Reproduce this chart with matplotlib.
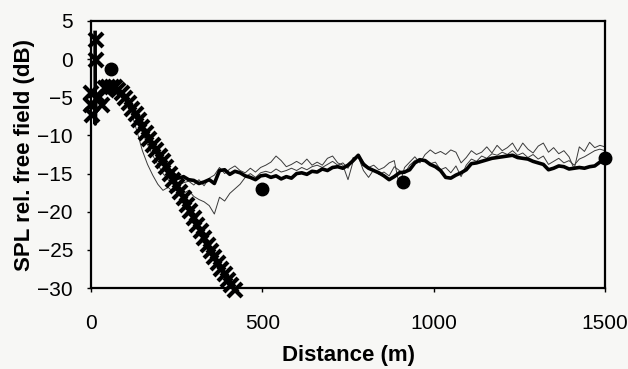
import numpy as np
import matplotlib
matplotlib.use('Agg')
import matplotlib.pyplot as plt

plt.rcParams['font.family'] = ['Liberation Sans', 'DejaVu Sans']

# ── Data ──────────────────────────────────────────────────────────────────────
# measured traces, sampled every 15 m from 60 m, plus the start near the source
LINE_START_X = [12, 12.5, 14, 30, 45]
LINE_GRID_X  = np.arange(60, 1501, 15)

thick_start = [3.5, -8.5, -5.0, -4.2, -3.8]
thick_y = [
    -3.6, -3.8, -4.5, -5.4, -6.5, -7.6, -8.9, -10.1, -11.2, -12.3,
    -13.4, -14.3, -15.0, -15.6, -15.4, -15.8, -15.9, -16.3, -16.1, -15.8,
    -16.3, -14.6, -14.5, -15.1, -14.7, -14.9, -15.3, -15.5, -15.8, -15.3,
    -15.2, -15.5, -15.3, -15.7, -15.4, -15.6, -15.0, -14.9, -15.1, -14.7,
    -14.8, -14.4, -14.6, -14.2, -14.1, -14.3, -13.9, -13.3, -12.6, -13.8,
    -14.3, -14.6, -14.9, -15.3, -15.8, -15.4, -14.9, -14.8, -14.5, -13.6,
    -13.2, -13.3, -13.8, -14.1, -14.6, -15.5, -15.6, -15.2, -14.9, -14.5,
    -13.7, -13.6, -13.4, -13.2, -13.0, -12.9, -12.8, -12.7, -12.6, -12.9,
    -13.0, -13.1, -13.4, -13.6, -13.8, -14.5, -14.3, -14.0, -14.1, -14.4,
    -14.3, -14.2, -14.3, -14.1, -14.0, -13.5, -13.3,
]

thin1_start = [1.0, -6.0, -5.0, -4.2, -3.8]
thin1_y = [
    -3.6, -3.9, -4.6, -5.5, -6.7, -8.0, -9.6, -11.2, -12.6, -13.8,
    -15.0, -15.8, -16.4, -16.6, -16.2, -16.0, -16.5, -15.8, -16.6, -15.6,
    -15.2, -14.2, -15.0, -14.4, -14.0, -14.6, -14.9, -14.3, -14.8, -14.2,
    -13.9, -13.5, -12.7, -13.3, -14.1, -13.8, -13.4, -13.8, -13.1, -13.9,
    -13.5, -13.9, -13.0, -12.7, -13.6, -13.9, -15.8, -13.4, -12.5, -13.5,
    -14.2, -13.9, -14.5, -14.2, -13.6, -13.3, -16.6, -14.2, -13.5, -12.8,
    -13.6, -12.5, -11.9, -12.4, -12.1, -12.5, -11.9, -12.2, -13.6, -12.9,
    -12.0, -12.5, -12.2, -11.5, -12.3, -11.3, -12.0, -11.6, -11.0, -12.1,
    -11.0, -11.8, -12.3, -11.4, -11.0, -12.2, -11.6, -12.4, -12.0, -12.8,
    -14.4, -11.5, -12.1, -10.9, -11.6, -11.3, -11.5,
]

thin2_start = [0.0, -7.0, -5.2, -4.3, -3.9]
thin2_y = [
    -3.6, -3.9, -4.6, -5.6, -7.3, -9.6, -12.0, -13.8, -15.2, -16.4,
    -17.2, -16.8, -17.4, -17.0, -17.6, -17.2, -18.0, -18.4, -18.7, -19.2,
    -20.3, -18.1, -18.6, -17.6, -17.0, -16.4, -15.5, -15.0, -15.5, -14.9,
    -14.7, -14.9, -14.4, -14.8, -14.6, -14.3, -14.6, -14.2, -14.5, -14.1,
    -13.9, -14.2, -13.8, -13.4, -13.9, -13.6, -14.3, -12.9, -12.8, -14.6,
    -15.5, -14.5, -15.1, -14.8, -15.3, -14.1, -14.6, -15.0, -13.9, -13.3,
    -13.0, -13.4, -13.7, -13.5, -14.5, -14.2, -14.9, -14.0, -15.4, -13.9,
    -13.1, -13.4, -12.7, -13.0, -12.4, -12.6, -12.2, -12.5, -12.0, -12.6,
    -12.3, -12.9, -12.5, -13.1, -12.7, -13.8, -13.4, -13.0, -13.6, -13.3,
    -13.9, -13.1, -12.8, -12.4, -12.0, -11.8, -12.0,
]

# model prediction (crosses): scattered points near the source, then a band
cross_near_x = [0, 3, 14, 14, 23, 32, 0]
cross_near_y = [-4.4, -7.3, 2.5, -0.1, -5.0, -6.0, -6.0]
cross_band_x = np.arange(40, 421, 10)
cross_band_y = [
    -3.8, -3.6, -3.6, -3.7, -4.0, -4.5, -5.1, -5.8, -6.5, -7.2,
    -8.0, -8.9, -9.7, -10.5, -11.2, -11.9, -12.7, -13.4, -14.2, -15.0,
    -15.8, -16.6, -17.4, -18.2, -19.1, -19.9, -20.8, -21.7, -22.5, -23.4,
    -24.3, -25.1, -25.9, -26.7, -27.5, -28.2, -29.0, -29.6, -30.2,
]

# point measurements (dots)
dot_x = [58, 500, 910, 1500]
dot_y = [-1.3, -17.0, -16.1, -13.0]

XTICKS = [0, 500, 1000, 1500]
YTICKS = [5, 0, -5, -10, -15, -20, -25, -30]

# ── Plot ──────────────────────────────────────────────────────────────────────
BG = '#f7f7f5'
fig = plt.figure(figsize=(6.28, 3.69), dpi=100, facecolor=BG)
ax = fig.add_axes([0.1449, 0.2195, 0.8185, 0.7236], facecolor=BG)

line_x = np.concatenate([LINE_START_X, LINE_GRID_X])
ax.plot(line_x, thin1_start + thin1_y, color='#3a3a3a', linewidth=0.7)
ax.plot(line_x, thin2_start + thin2_y, color='#3a3a3a', linewidth=0.7)
ax.plot(line_x, thick_start + thick_y, color='black', linewidth=2.6)

cross_style = dict(linestyle='none', marker='x', markersize=9.5,
                   markeredgewidth=3.0, color='black', clip_on=False)
ax.plot(cross_near_x, cross_near_y, **cross_style)
ax.plot(cross_band_x, cross_band_y, **cross_style)
ax.plot(dot_x, dot_y, linestyle='none', marker='o', markersize=9,
        color='black', clip_on=False, zorder=5)

ax.set_xlim(0, 1500)
ax.set_ylim(-30, 5)
ax.set_xticks(XTICKS)
ax.set_yticks(YTICKS)
ax.tick_params(axis='both', direction='out', length=3, width=1,
               labelsize=15, colors='black')
ax.tick_params(axis='x', pad=16)
ax.tick_params(axis='y', pad=10)
for sp in ax.spines.values():
    sp.set_linewidth(1.6)
    sp.set_color('black')

ax.set_xlabel('Distance (m)', fontsize=16, fontweight='bold', labelpad=8)
ax.set_ylabel('SPL rel. free field (dB)', fontsize=16, fontweight='bold',
              labelpad=2)

fig.savefig('out.png', dpi=100, facecolor=BG)
